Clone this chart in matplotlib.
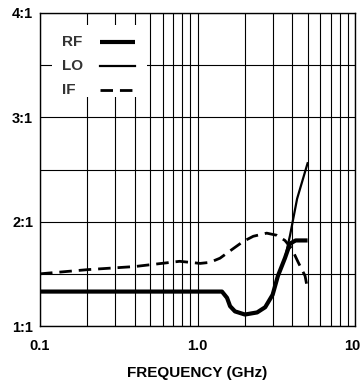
import matplotlib
matplotlib.use('Agg')
import matplotlib.pyplot as plt
import matplotlib.transforms as mtransforms
from matplotlib.lines import Line2D
from matplotlib.patches import Rectangle
from matplotlib.ticker import FixedLocator, NullFormatter

plt.rcParams['font.family'] = ['Liberation Sans', 'DejaVu Sans']
plt.rcParams['font.weight'] = 'bold'

# RF VSWR (thick line)
rf_freq = [0.1, 0.5, 1.0, 1.43, 1.54, 1.61, 1.73, 2.0, 2.39, 2.69, 3.0, 3.24, 3.59, 3.87, 4.2, 5.0]
rf_vswr = [1.33, 1.33, 1.33, 1.33, 1.27, 1.19, 1.14, 1.11, 1.13, 1.18, 1.30, 1.48, 1.65, 1.79, 1.82, 1.82]

# LO VSWR (thin line), same as RF below ~3.6 GHz
lo_freq = [0.1, 0.5, 1.0, 1.43, 1.54, 1.61, 1.73, 2.0, 2.39, 2.69, 3.0, 3.24, 3.59, 3.87, 4.29, 5.0]
lo_vswr = [1.33, 1.33, 1.33, 1.33, 1.27, 1.19, 1.14, 1.11, 1.13, 1.18, 1.30, 1.48, 1.65, 1.87, 2.22, 2.56]

# IF VSWR (dashed line)
if_freq = [0.1, 0.2, 0.4, 0.77, 1.04, 1.2, 1.39, 1.61, 1.95, 2.26, 2.75, 3.18, 3.59, 3.97, 4.36, 4.82, 5.0]
if_vswr = [1.50, 1.54, 1.57, 1.62, 1.60, 1.61, 1.65, 1.72, 1.81, 1.86, 1.89, 1.87, 1.82, 1.74, 1.61, 1.48, 1.35]

x_ticks = [0.1, 1.0, 10]
x_labels = ['0.1', '1.0', '10']
y_ticks = [1, 2, 3, 4]
y_labels = ['1:1', '2:1', '3:1', '4:1']
y_minor = [1.5, 2.5, 3.5]

fig = plt.figure(figsize=(3.6, 3.83), dpi=100)
ax = fig.add_axes([40 / 360, 57 / 383, 315 / 360, 313 / 383])

ax.plot(rf_freq, rf_vswr, color='black', lw=3.0, solid_capstyle='butt')
ax.plot(lo_freq, lo_vswr, color='black', lw=1.6)
ax.plot(if_freq, if_vswr, color='black', lw=2.0, dashes=(4.5, 2.5))

ax.set_xscale('log')
ax.set_xlim(0.1, 10)
ax.set_ylim(1, 4)
ax.xaxis.set_major_locator(FixedLocator(x_ticks))
ax.set_xticklabels(x_labels)
ax.xaxis.set_minor_locator(FixedLocator([m * d for d in (0.1, 1.0) for m in range(2, 10)]))
ax.xaxis.set_minor_formatter(NullFormatter())
ax.set_yticks(y_ticks)
ax.set_yticklabels(y_labels)
ax.set_yticks(y_minor, minor=True)

ax.grid(True, which='both', color='black', lw=0.8)
ax.set_axisbelow(True)
ax.tick_params(which='both', length=0, labelsize=10.5)
ax.tick_params(axis='x', pad=9)
ax.tick_params(axis='y', pad=5)
for s in ax.spines.values():
    s.set_color('black')
    s.set_linewidth(1.0)

# nudge the "10" label so it stays inside the figure
lbl = ax.get_xticklabels()[-1]
lbl.set_transform(lbl.get_transform() + mtransforms.ScaledTranslation(-3 / 100, 0, fig.dpi_scale_trans))

ax.set_xlabel('FREQUENCY (GHz)', fontsize=11, fontweight='bold', labelpad=10)

# legend: white box, label on the left, line sample on the right
ax.add_patch(Rectangle((0.038, 0.732), 0.302, 0.23, transform=ax.transAxes,
                       facecolor='white', edgecolor='none', zorder=2))
leg_names = ['RF', 'LO', 'IF']
leg_y = [0.906, 0.830, 0.754]
leg_styles = [dict(lw=3.0, solid_capstyle='butt'), dict(lw=1.6), dict(lw=2.0, dashes=(4.5, 2.5))]
for name, yy, st in zip(leg_names, leg_y, leg_styles):
    ax.text(0.070, yy, name, transform=ax.transAxes, ha='left', va='center',
            fontsize=11, fontweight='bold', color='#333333', zorder=3)
    ax.add_line(Line2D([0.19, 0.30], [yy, yy], transform=ax.transAxes, color='black', zorder=3, **st))

plt.savefig('out.png', dpi=100)
